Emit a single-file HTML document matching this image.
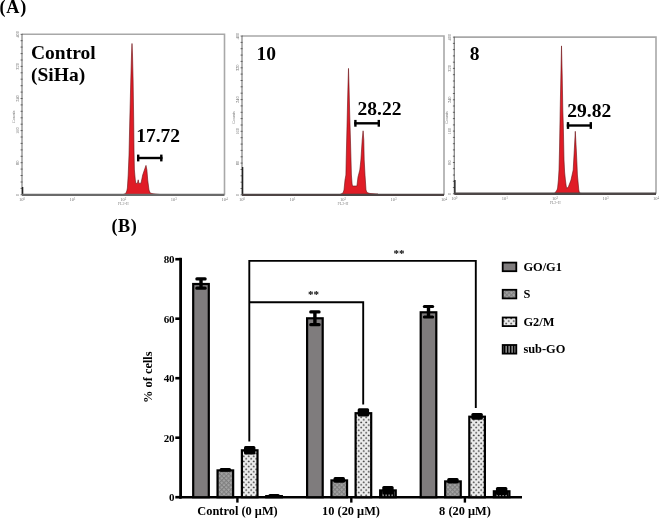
<!DOCTYPE html>
<html><head><meta charset="utf-8"><style>
html,body{margin:0;padding:0;background:#fff;}
svg{display:block;filter:blur(0.3px);}
text{font-family:"Liberation Serif",serif;}
.b{font-weight:bold;fill:#000;}
</style></head><body>
<svg width="660" height="518" viewBox="0 0 660 518">
<defs>
<pattern id="pS" width="3.2" height="3.2" patternUnits="userSpaceOnUse" patternTransform="rotate(45)">
<rect width="3.2" height="3.2" fill="#a4a4a4"/><rect width="1.1" height="3.2" fill="#808080"/><rect width="3.2" height="1.1" fill="#808080"/></pattern>
<pattern id="pG2" width="5" height="5.2" patternUnits="userSpaceOnUse">
<rect width="5" height="5.2" fill="#ececec"/><ellipse cx="1.2" cy="1.2" rx="1" ry="0.75" fill="#4a4a4a"/><ellipse cx="3.7" cy="3.8" rx="1" ry="0.75" fill="#4a4a4a"/></pattern>
<pattern id="pSub" width="3" height="3" patternUnits="userSpaceOnUse">
<rect width="3" height="3" fill="#000"/><rect x="1.6" width="1" height="3" fill="#d8d8d8"/></pattern>
</defs>
<rect width="660" height="518" fill="#fff"/>
<text x="17.5" y="34.3" font-size="4.4" fill="#666" text-anchor="middle" transform="rotate(-90 17.5 34.3)" dy="1.5">400</text>
<text x="17.5" y="66.4" font-size="4.4" fill="#666" text-anchor="middle" transform="rotate(-90 17.5 66.4)" dy="1.5">320</text>
<text x="17.5" y="98.5" font-size="4.4" fill="#666" text-anchor="middle" transform="rotate(-90 17.5 98.5)" dy="1.5">240</text>
<text x="17.5" y="130.6" font-size="4.4" fill="#666" text-anchor="middle" transform="rotate(-90 17.5 130.6)" dy="1.5">160</text>
<text x="17.5" y="162.7" font-size="4.4" fill="#666" text-anchor="middle" transform="rotate(-90 17.5 162.7)" dy="1.5">80</text>
<text x="17.5" y="194.8" font-size="4.4" fill="#666" text-anchor="middle" transform="rotate(-90 17.5 194.8)" dy="1.5">0</text>
<text x="12.7" y="115.4" font-size="4.4" fill="#777" text-anchor="middle" transform="rotate(-90 14 115.4)" dy="1.5">Counts</text>
<text x="22.0" y="201.3" font-size="4.5" fill="#777" text-anchor="middle">10<tspan dy="-1.5" font-size="3.2">0</tspan></text>
<text x="72.6" y="201.3" font-size="4.5" fill="#777" text-anchor="middle">10<tspan dy="-1.5" font-size="3.2">1</tspan></text>
<text x="123.2" y="201.3" font-size="4.5" fill="#777" text-anchor="middle">10<tspan dy="-1.5" font-size="3.2">2</tspan></text>
<text x="173.9" y="201.3" font-size="4.5" fill="#777" text-anchor="middle">10<tspan dy="-1.5" font-size="3.2">3</tspan></text>
<text x="224.5" y="201.3" font-size="4.5" fill="#777" text-anchor="middle">10<tspan dy="-1.5" font-size="3.2">4</tspan></text>
<text x="123.2" y="204.8" font-size="4" fill="#888" text-anchor="middle">FL2-H</text>
<polyline points="22,34.3 224.5,34.3 224.5,194.8" fill="none" stroke="#a8a8a8" stroke-width="1.6"/>
<line x1="22" y1="34.3" x2="22" y2="194.8" stroke="#8a8a8a" stroke-width="1.3"/>
<line x1="20.6" y1="34.3" x2="22.6" y2="34.3" stroke="#555" stroke-width="0.9"/>
<line x1="20.6" y1="40.7" x2="22.6" y2="40.7" stroke="#555" stroke-width="0.9"/>
<line x1="20.6" y1="47.1" x2="22.6" y2="47.1" stroke="#555" stroke-width="0.9"/>
<line x1="20.6" y1="53.6" x2="22.6" y2="53.6" stroke="#555" stroke-width="0.9"/>
<line x1="20.6" y1="60.0" x2="22.6" y2="60.0" stroke="#555" stroke-width="0.9"/>
<line x1="20.6" y1="66.4" x2="22.6" y2="66.4" stroke="#555" stroke-width="0.9"/>
<line x1="20.6" y1="72.8" x2="22.6" y2="72.8" stroke="#555" stroke-width="0.9"/>
<line x1="20.6" y1="79.2" x2="22.6" y2="79.2" stroke="#555" stroke-width="0.9"/>
<line x1="20.6" y1="85.7" x2="22.6" y2="85.7" stroke="#555" stroke-width="0.9"/>
<line x1="20.6" y1="92.1" x2="22.6" y2="92.1" stroke="#555" stroke-width="0.9"/>
<line x1="20.6" y1="98.5" x2="22.6" y2="98.5" stroke="#555" stroke-width="0.9"/>
<line x1="20.6" y1="104.9" x2="22.6" y2="104.9" stroke="#555" stroke-width="0.9"/>
<line x1="20.6" y1="111.3" x2="22.6" y2="111.3" stroke="#555" stroke-width="0.9"/>
<line x1="20.6" y1="117.8" x2="22.6" y2="117.8" stroke="#555" stroke-width="0.9"/>
<line x1="20.6" y1="124.2" x2="22.6" y2="124.2" stroke="#555" stroke-width="0.9"/>
<line x1="20.6" y1="130.6" x2="22.6" y2="130.6" stroke="#555" stroke-width="0.9"/>
<line x1="20.6" y1="137.0" x2="22.6" y2="137.0" stroke="#555" stroke-width="0.9"/>
<line x1="20.6" y1="143.4" x2="22.6" y2="143.4" stroke="#555" stroke-width="0.9"/>
<line x1="20.6" y1="149.9" x2="22.6" y2="149.9" stroke="#555" stroke-width="0.9"/>
<line x1="20.6" y1="156.3" x2="22.6" y2="156.3" stroke="#555" stroke-width="0.9"/>
<line x1="20.6" y1="162.7" x2="22.6" y2="162.7" stroke="#555" stroke-width="0.9"/>
<line x1="20.6" y1="169.1" x2="22.6" y2="169.1" stroke="#555" stroke-width="0.9"/>
<line x1="20.6" y1="175.5" x2="22.6" y2="175.5" stroke="#555" stroke-width="0.9"/>
<line x1="20.6" y1="182.0" x2="22.6" y2="182.0" stroke="#555" stroke-width="0.9"/>
<line x1="20.6" y1="188.4" x2="22.6" y2="188.4" stroke="#555" stroke-width="0.9"/>
<line x1="20.6" y1="194.8" x2="22.6" y2="194.8" stroke="#555" stroke-width="0.9"/>
<line x1="22.6" y1="187" x2="22.6" y2="194.8" stroke="#222" stroke-width="1.4"/>
<polygon points="123,194.6 125.7,193.5 126.8,191 127.4,188 128.2,175 129,155 129.8,120 130.8,80 131.5,55 132,43.5 132.5,55 133.1,80 133.7,120 134,150 134.4,170 135.3,180 135.8,183.3 137.4,183.4 138.2,179.8 138.9,183.4 141,183.2 142.7,175 144.4,170 146,165.4 146.9,170 147.7,180 149,190 150.2,193 153,193.8 160,194.5" fill="#e01c26" stroke="#6a1014" stroke-width="0.6" stroke-linejoin="round"/>
<line x1="22" y1="194.8" x2="224.5" y2="194.8" stroke="#6a6a6a" stroke-width="2.2"/>
<text x="31" y="59.4" class="b" font-size="19.5">Control</text>
<text x="31" y="81.2" class="b" font-size="19.5">(SiHa)</text>
<text x="136.2" y="142.4" class="b" font-size="19.5">17.72</text>
<line x1="137" y1="158" x2="162.5" y2="158" stroke="#000" stroke-width="2.4"/>
<line x1="138.2" y1="154.6" x2="138.2" y2="161.4" stroke="#000" stroke-width="2.4"/>
<line x1="161.3" y1="154.6" x2="161.3" y2="161.4" stroke="#000" stroke-width="2.4"/>
<text x="237.5" y="36.0" font-size="4.4" fill="#666" text-anchor="middle" transform="rotate(-90 237.5 36.0)" dy="1.5">400</text>
<text x="237.5" y="67.8" font-size="4.4" fill="#666" text-anchor="middle" transform="rotate(-90 237.5 67.8)" dy="1.5">320</text>
<text x="237.5" y="99.6" font-size="4.4" fill="#666" text-anchor="middle" transform="rotate(-90 237.5 99.6)" dy="1.5">240</text>
<text x="237.5" y="131.3" font-size="4.4" fill="#666" text-anchor="middle" transform="rotate(-90 237.5 131.3)" dy="1.5">160</text>
<text x="237.5" y="163.1" font-size="4.4" fill="#666" text-anchor="middle" transform="rotate(-90 237.5 163.1)" dy="1.5">80</text>
<text x="237.5" y="194.9" font-size="4.4" fill="#666" text-anchor="middle" transform="rotate(-90 237.5 194.9)" dy="1.5">0</text>
<text x="232.7" y="116.2" font-size="4.4" fill="#777" text-anchor="middle" transform="rotate(-90 234 116.2)" dy="1.5">Counts</text>
<text x="242.0" y="201.4" font-size="4.5" fill="#777" text-anchor="middle">10<tspan dy="-1.5" font-size="3.2">0</tspan></text>
<text x="292.5" y="201.4" font-size="4.5" fill="#777" text-anchor="middle">10<tspan dy="-1.5" font-size="3.2">1</tspan></text>
<text x="343.0" y="201.4" font-size="4.5" fill="#777" text-anchor="middle">10<tspan dy="-1.5" font-size="3.2">2</tspan></text>
<text x="393.5" y="201.4" font-size="4.5" fill="#777" text-anchor="middle">10<tspan dy="-1.5" font-size="3.2">3</tspan></text>
<text x="444.0" y="201.4" font-size="4.5" fill="#777" text-anchor="middle">10<tspan dy="-1.5" font-size="3.2">4</tspan></text>
<text x="343.0" y="204.9" font-size="4" fill="#888" text-anchor="middle">FL2-H</text>
<polyline points="242,36 444,36 444,194.9" fill="none" stroke="#a8a8a8" stroke-width="1.6"/>
<line x1="242" y1="36" x2="242" y2="194.9" stroke="#8a8a8a" stroke-width="1.3"/>
<line x1="240.6" y1="36.0" x2="242.6" y2="36.0" stroke="#555" stroke-width="0.9"/>
<line x1="240.6" y1="42.4" x2="242.6" y2="42.4" stroke="#555" stroke-width="0.9"/>
<line x1="240.6" y1="48.7" x2="242.6" y2="48.7" stroke="#555" stroke-width="0.9"/>
<line x1="240.6" y1="55.1" x2="242.6" y2="55.1" stroke="#555" stroke-width="0.9"/>
<line x1="240.6" y1="61.4" x2="242.6" y2="61.4" stroke="#555" stroke-width="0.9"/>
<line x1="240.6" y1="67.8" x2="242.6" y2="67.8" stroke="#555" stroke-width="0.9"/>
<line x1="240.6" y1="74.1" x2="242.6" y2="74.1" stroke="#555" stroke-width="0.9"/>
<line x1="240.6" y1="80.5" x2="242.6" y2="80.5" stroke="#555" stroke-width="0.9"/>
<line x1="240.6" y1="86.8" x2="242.6" y2="86.8" stroke="#555" stroke-width="0.9"/>
<line x1="240.6" y1="93.2" x2="242.6" y2="93.2" stroke="#555" stroke-width="0.9"/>
<line x1="240.6" y1="99.6" x2="242.6" y2="99.6" stroke="#555" stroke-width="0.9"/>
<line x1="240.6" y1="105.9" x2="242.6" y2="105.9" stroke="#555" stroke-width="0.9"/>
<line x1="240.6" y1="112.3" x2="242.6" y2="112.3" stroke="#555" stroke-width="0.9"/>
<line x1="240.6" y1="118.6" x2="242.6" y2="118.6" stroke="#555" stroke-width="0.9"/>
<line x1="240.6" y1="125.0" x2="242.6" y2="125.0" stroke="#555" stroke-width="0.9"/>
<line x1="240.6" y1="131.3" x2="242.6" y2="131.3" stroke="#555" stroke-width="0.9"/>
<line x1="240.6" y1="137.7" x2="242.6" y2="137.7" stroke="#555" stroke-width="0.9"/>
<line x1="240.6" y1="144.1" x2="242.6" y2="144.1" stroke="#555" stroke-width="0.9"/>
<line x1="240.6" y1="150.4" x2="242.6" y2="150.4" stroke="#555" stroke-width="0.9"/>
<line x1="240.6" y1="156.8" x2="242.6" y2="156.8" stroke="#555" stroke-width="0.9"/>
<line x1="240.6" y1="163.1" x2="242.6" y2="163.1" stroke="#555" stroke-width="0.9"/>
<line x1="240.6" y1="169.5" x2="242.6" y2="169.5" stroke="#555" stroke-width="0.9"/>
<line x1="240.6" y1="175.8" x2="242.6" y2="175.8" stroke="#555" stroke-width="0.9"/>
<line x1="240.6" y1="182.2" x2="242.6" y2="182.2" stroke="#555" stroke-width="0.9"/>
<line x1="240.6" y1="188.5" x2="242.6" y2="188.5" stroke="#555" stroke-width="0.9"/>
<line x1="240.6" y1="194.9" x2="242.6" y2="194.9" stroke="#555" stroke-width="0.9"/>
<line x1="242.6" y1="167" x2="242.6" y2="194.9" stroke="#222" stroke-width="1.4"/>
<polygon points="340,194.5 343,193 344,190 345,180 345.9,175 346.2,160 346.8,135 347.5,105 348,85 348.5,68.4 349,85 349.6,110 350.3,135 351,160 351.4,175 352.1,184 352.5,186 356.9,186 358,177 359.8,170 360.9,160 362.2,140 363.1,130.8 363.8,140 364.2,160 365,175 366,190 367,192.6 370,193.5 378,194.2" fill="#e01c26" stroke="#6a1014" stroke-width="0.6" stroke-linejoin="round"/>
<line x1="242" y1="194.9" x2="444" y2="194.9" stroke="#4d4444" stroke-width="2.4"/>
<text x="357.5" y="115.2" class="b" font-size="19.5">28.22</text>
<line x1="354.2" y1="123.3" x2="380" y2="123.3" stroke="#000" stroke-width="2.4"/>
<line x1="355.4" y1="119.89999999999999" x2="355.4" y2="126.7" stroke="#000" stroke-width="2.4"/>
<line x1="378.8" y1="119.89999999999999" x2="378.8" y2="126.7" stroke="#000" stroke-width="2.4"/>
<text x="449.8" y="37.1" font-size="4.4" fill="#666" text-anchor="middle" transform="rotate(-90 449.8 37.1)" dy="1.5">400</text>
<text x="449.8" y="68.4" font-size="4.4" fill="#666" text-anchor="middle" transform="rotate(-90 449.8 68.4)" dy="1.5">320</text>
<text x="449.8" y="99.8" font-size="4.4" fill="#666" text-anchor="middle" transform="rotate(-90 449.8 99.8)" dy="1.5">240</text>
<text x="449.8" y="131.1" font-size="4.4" fill="#666" text-anchor="middle" transform="rotate(-90 449.8 131.1)" dy="1.5">160</text>
<text x="449.8" y="162.5" font-size="4.4" fill="#666" text-anchor="middle" transform="rotate(-90 449.8 162.5)" dy="1.5">80</text>
<text x="449.8" y="193.8" font-size="4.4" fill="#666" text-anchor="middle" transform="rotate(-90 449.8 193.8)" dy="1.5">0</text>
<text x="445.0" y="116.2" font-size="4.4" fill="#777" text-anchor="middle" transform="rotate(-90 446.3 116.2)" dy="1.5">Counts</text>
<text x="454.3" y="200.3" font-size="4.5" fill="#777" text-anchor="middle">10<tspan dy="-1.5" font-size="3.2">0</tspan></text>
<text x="504.7" y="200.3" font-size="4.5" fill="#777" text-anchor="middle">10<tspan dy="-1.5" font-size="3.2">1</tspan></text>
<text x="555.1" y="200.3" font-size="4.5" fill="#777" text-anchor="middle">10<tspan dy="-1.5" font-size="3.2">2</tspan></text>
<text x="605.6" y="200.3" font-size="4.5" fill="#777" text-anchor="middle">10<tspan dy="-1.5" font-size="3.2">3</tspan></text>
<text x="656.0" y="200.3" font-size="4.5" fill="#777" text-anchor="middle">10<tspan dy="-1.5" font-size="3.2">4</tspan></text>
<text x="555.1" y="203.8" font-size="4" fill="#888" text-anchor="middle">FL2-H</text>
<polyline points="454.3,37.1 656,37.1 656,193.8" fill="none" stroke="#a8a8a8" stroke-width="1.6"/>
<line x1="454.3" y1="37.1" x2="454.3" y2="193.8" stroke="#8a8a8a" stroke-width="1.3"/>
<line x1="452.90000000000003" y1="37.1" x2="454.90000000000003" y2="37.1" stroke="#555" stroke-width="0.9"/>
<line x1="452.90000000000003" y1="43.4" x2="454.90000000000003" y2="43.4" stroke="#555" stroke-width="0.9"/>
<line x1="452.90000000000003" y1="49.6" x2="454.90000000000003" y2="49.6" stroke="#555" stroke-width="0.9"/>
<line x1="452.90000000000003" y1="55.9" x2="454.90000000000003" y2="55.9" stroke="#555" stroke-width="0.9"/>
<line x1="452.90000000000003" y1="62.2" x2="454.90000000000003" y2="62.2" stroke="#555" stroke-width="0.9"/>
<line x1="452.90000000000003" y1="68.4" x2="454.90000000000003" y2="68.4" stroke="#555" stroke-width="0.9"/>
<line x1="452.90000000000003" y1="74.7" x2="454.90000000000003" y2="74.7" stroke="#555" stroke-width="0.9"/>
<line x1="452.90000000000003" y1="81.0" x2="454.90000000000003" y2="81.0" stroke="#555" stroke-width="0.9"/>
<line x1="452.90000000000003" y1="87.2" x2="454.90000000000003" y2="87.2" stroke="#555" stroke-width="0.9"/>
<line x1="452.90000000000003" y1="93.5" x2="454.90000000000003" y2="93.5" stroke="#555" stroke-width="0.9"/>
<line x1="452.90000000000003" y1="99.8" x2="454.90000000000003" y2="99.8" stroke="#555" stroke-width="0.9"/>
<line x1="452.90000000000003" y1="106.0" x2="454.90000000000003" y2="106.0" stroke="#555" stroke-width="0.9"/>
<line x1="452.90000000000003" y1="112.3" x2="454.90000000000003" y2="112.3" stroke="#555" stroke-width="0.9"/>
<line x1="452.90000000000003" y1="118.6" x2="454.90000000000003" y2="118.6" stroke="#555" stroke-width="0.9"/>
<line x1="452.90000000000003" y1="124.9" x2="454.90000000000003" y2="124.9" stroke="#555" stroke-width="0.9"/>
<line x1="452.90000000000003" y1="131.1" x2="454.90000000000003" y2="131.1" stroke="#555" stroke-width="0.9"/>
<line x1="452.90000000000003" y1="137.4" x2="454.90000000000003" y2="137.4" stroke="#555" stroke-width="0.9"/>
<line x1="452.90000000000003" y1="143.7" x2="454.90000000000003" y2="143.7" stroke="#555" stroke-width="0.9"/>
<line x1="452.90000000000003" y1="149.9" x2="454.90000000000003" y2="149.9" stroke="#555" stroke-width="0.9"/>
<line x1="452.90000000000003" y1="156.2" x2="454.90000000000003" y2="156.2" stroke="#555" stroke-width="0.9"/>
<line x1="452.90000000000003" y1="162.5" x2="454.90000000000003" y2="162.5" stroke="#555" stroke-width="0.9"/>
<line x1="452.90000000000003" y1="168.7" x2="454.90000000000003" y2="168.7" stroke="#555" stroke-width="0.9"/>
<line x1="452.90000000000003" y1="175.0" x2="454.90000000000003" y2="175.0" stroke="#555" stroke-width="0.9"/>
<line x1="452.90000000000003" y1="181.3" x2="454.90000000000003" y2="181.3" stroke="#555" stroke-width="0.9"/>
<line x1="452.90000000000003" y1="187.5" x2="454.90000000000003" y2="187.5" stroke="#555" stroke-width="0.9"/>
<line x1="452.90000000000003" y1="193.8" x2="454.90000000000003" y2="193.8" stroke="#555" stroke-width="0.9"/>
<line x1="454.90000000000003" y1="180" x2="454.90000000000003" y2="193.8" stroke="#222" stroke-width="1.4"/>
<polygon points="553,193.8 554.8,193.2 557,190 557.6,188 558.4,180 559,170 559.5,150 560.2,110 560.9,75 561.5,45.9 562.2,75 562.8,110 563.3,125 564,160 564.6,172 565.4,180 566.2,186 566.8,188.5 568.5,186.5 571,180 573.2,170 574.3,150 575.3,131.3 576.3,150 577,165 577.4,175 578.8,190 579.5,193 583,193.8 590,193.8" fill="#e01c26" stroke="#6a1014" stroke-width="0.6" stroke-linejoin="round"/>
<line x1="454.3" y1="193.8" x2="656" y2="193.8" stroke="#4d4747" stroke-width="2.4"/>
<text x="567.3" y="117.3" class="b" font-size="19.5">29.82</text>
<line x1="566.8" y1="125.5" x2="592" y2="125.5" stroke="#000" stroke-width="2.4"/>
<line x1="568.0" y1="122.1" x2="568.0" y2="128.9" stroke="#000" stroke-width="2.4"/>
<line x1="590.8" y1="122.1" x2="590.8" y2="128.9" stroke="#000" stroke-width="2.4"/>
<text x="256.4" y="59.7" class="b" font-size="19.5">10</text>
<text x="469.8" y="60.3" class="b" font-size="19.5">8</text>
<text x="-0.6" y="12.9" class="b" font-size="18.2" letter-spacing="0.8">(A)</text>
<text x="111.4" y="231.5" class="b" font-size="18.2" letter-spacing="0.6">(B)</text>
<line x1="180.6" y1="257.8" x2="180.6" y2="498.5" stroke="#000" stroke-width="2.8"/>
<line x1="179.2" y1="497.2" x2="522" y2="497.2" stroke="#000" stroke-width="2.6"/>
<line x1="175.3" y1="497.2" x2="181" y2="497.2" stroke="#000" stroke-width="2.6"/>
<text x="174" y="501.0" class="b" font-size="11" text-anchor="end" letter-spacing="-0.4">0</text>
<line x1="175.3" y1="437.7" x2="181" y2="437.7" stroke="#000" stroke-width="2.6"/>
<text x="174" y="441.5" class="b" font-size="11" text-anchor="end" letter-spacing="-0.4">20</text>
<line x1="175.3" y1="378.2" x2="181" y2="378.2" stroke="#000" stroke-width="2.6"/>
<text x="174" y="382.0" class="b" font-size="11" text-anchor="end" letter-spacing="-0.4">40</text>
<line x1="175.3" y1="318.7" x2="181" y2="318.7" stroke="#000" stroke-width="2.6"/>
<text x="174" y="322.5" class="b" font-size="11" text-anchor="end" letter-spacing="-0.4">60</text>
<line x1="175.3" y1="259.2" x2="181" y2="259.2" stroke="#000" stroke-width="2.6"/>
<text x="174" y="263.0" class="b" font-size="11" text-anchor="end" letter-spacing="-0.4">80</text>
<line x1="237.4" y1="497.2" x2="237.4" y2="502.6" stroke="#000" stroke-width="2.4"/>
<line x1="351.3" y1="497.2" x2="351.3" y2="502.6" stroke="#000" stroke-width="2.4"/>
<line x1="464.9" y1="497.2" x2="464.9" y2="502.6" stroke="#000" stroke-width="2.4"/>
<text x="237.5" y="515" class="b" font-size="12.4" text-anchor="middle">Control (0 μM)</text>
<text x="351" y="515" class="b" font-size="12.4" text-anchor="middle">10 (20 μM)</text>
<text x="465" y="515" class="b" font-size="12.4" text-anchor="middle">8 (20 μM)</text>
<text x="148" y="377.2" class="b" font-size="12.4" text-anchor="middle" transform="rotate(-90 148 377.2)" dy="4">% of cells</text>
<rect x="193.20" y="284.00" width="15.60" height="213.20" fill="#7f7c7d" stroke="#000" stroke-width="2.2"/>
<rect x="199.30" y="278.95" width="3.4" height="9.25" fill="#000"/>
<rect x="195.30" y="277.35" width="11.4" height="3.2" rx="1.5" fill="#000"/>
<rect x="195.30" y="286.60" width="11.4" height="3.2" rx="1.5" fill="#000"/>
<rect x="217.55" y="470.40" width="15.60" height="26.80" fill="url(#pS)" stroke="#000" stroke-width="2.2"/>
<rect x="219.65" y="468.10" width="11.4" height="3.70" rx="1.5" fill="#000"/>
<rect x="241.90" y="450.30" width="15.60" height="46.90" fill="url(#pG2)" stroke="#000" stroke-width="2.2"/>
<rect x="244.00" y="446.00" width="11.4" height="8.50" rx="1.5" fill="#000"/>
<rect x="266.25" y="496.10" width="15.60" height="1.10" fill="url(#pSub)" stroke="#000" stroke-width="2.2"/>
<rect x="268.35" y="494.00" width="11.4" height="3.00" rx="1.5" fill="#000"/>
<rect x="307.10" y="318.30" width="15.60" height="178.90" fill="#7f7c7d" stroke="#000" stroke-width="2.2"/>
<rect x="313.20" y="311.90" width="3.4" height="12.70" fill="#000"/>
<rect x="309.20" y="310.30" width="11.4" height="3.2" rx="1.5" fill="#000"/>
<rect x="309.20" y="323.00" width="11.4" height="3.2" rx="1.5" fill="#000"/>
<rect x="331.45" y="480.40" width="15.60" height="16.80" fill="url(#pS)" stroke="#000" stroke-width="2.2"/>
<rect x="333.55" y="477.10" width="11.4" height="5.70" rx="1.5" fill="#000"/>
<rect x="355.60" y="413.20" width="15.60" height="84.00" fill="url(#pG2)" stroke="#000" stroke-width="2.2"/>
<rect x="357.70" y="408.30" width="11.4" height="8.20" rx="1.5" fill="#000"/>
<rect x="380.15" y="490.40" width="15.60" height="6.80" fill="url(#pSub)" stroke="#000" stroke-width="2.2"/>
<rect x="382.25" y="486.00" width="11.4" height="8.60" rx="1.5" fill="#000"/>
<rect x="420.70" y="312.30" width="15.60" height="184.90" fill="#7f7c7d" stroke="#000" stroke-width="2.2"/>
<rect x="426.80" y="306.50" width="3.4" height="10.50" fill="#000"/>
<rect x="422.80" y="304.90" width="11.4" height="3.2" rx="1.5" fill="#000"/>
<rect x="422.80" y="315.40" width="11.4" height="3.2" rx="1.5" fill="#000"/>
<rect x="445.15" y="481.40" width="15.60" height="15.80" fill="url(#pS)" stroke="#000" stroke-width="2.2"/>
<rect x="447.25" y="478.10" width="11.4" height="5.50" rx="1.5" fill="#000"/>
<rect x="469.30" y="416.70" width="15.60" height="80.50" fill="url(#pG2)" stroke="#000" stroke-width="2.2"/>
<rect x="471.40" y="413.10" width="11.4" height="6.60" rx="1.5" fill="#000"/>
<rect x="493.85" y="491.30" width="15.60" height="5.90" fill="url(#pSub)" stroke="#000" stroke-width="2.2"/>
<rect x="495.95" y="487.10" width="11.4" height="7.90" rx="1.5" fill="#000"/>
<polyline points="249.3,441.6 249.3,260.9 475.8,260.9 475.8,408" fill="none" stroke="#000" stroke-width="1.9"/>
<polyline points="249.3,302.3 363.2,302.3 363.2,404.4" fill="none" stroke="#000" stroke-width="1.9"/>
<text x="313.6" y="297.9" class="b" font-size="11" text-anchor="middle">**</text>
<text x="398.9" y="257.2" class="b" font-size="11" text-anchor="middle">**</text>
<rect x="502.7" y="262.6" width="13.6" height="8.6" fill="#7f7c7d" stroke="#000" stroke-width="1.8"/>
<text x="523.4" y="271.1" class="b" font-size="12.4">GO/G1</text>
<rect x="502.7" y="289.8" width="13.6" height="8.6" fill="url(#pS)" stroke="#000" stroke-width="1.8"/>
<text x="523.4" y="297.9" class="b" font-size="12.4">S</text>
<rect x="502.7" y="317.5" width="13.6" height="8.6" fill="url(#pG2)" stroke="#000" stroke-width="1.8"/>
<text x="523.4" y="325.5" class="b" font-size="12.4">G2/M</text>
<rect x="502.7" y="345.0" width="13.6" height="8.6" fill="url(#pSub)" stroke="#000" stroke-width="1.8"/>
<text x="523.4" y="353.1" class="b" font-size="12.4">sub-GO</text>
</svg>
</body></html>
